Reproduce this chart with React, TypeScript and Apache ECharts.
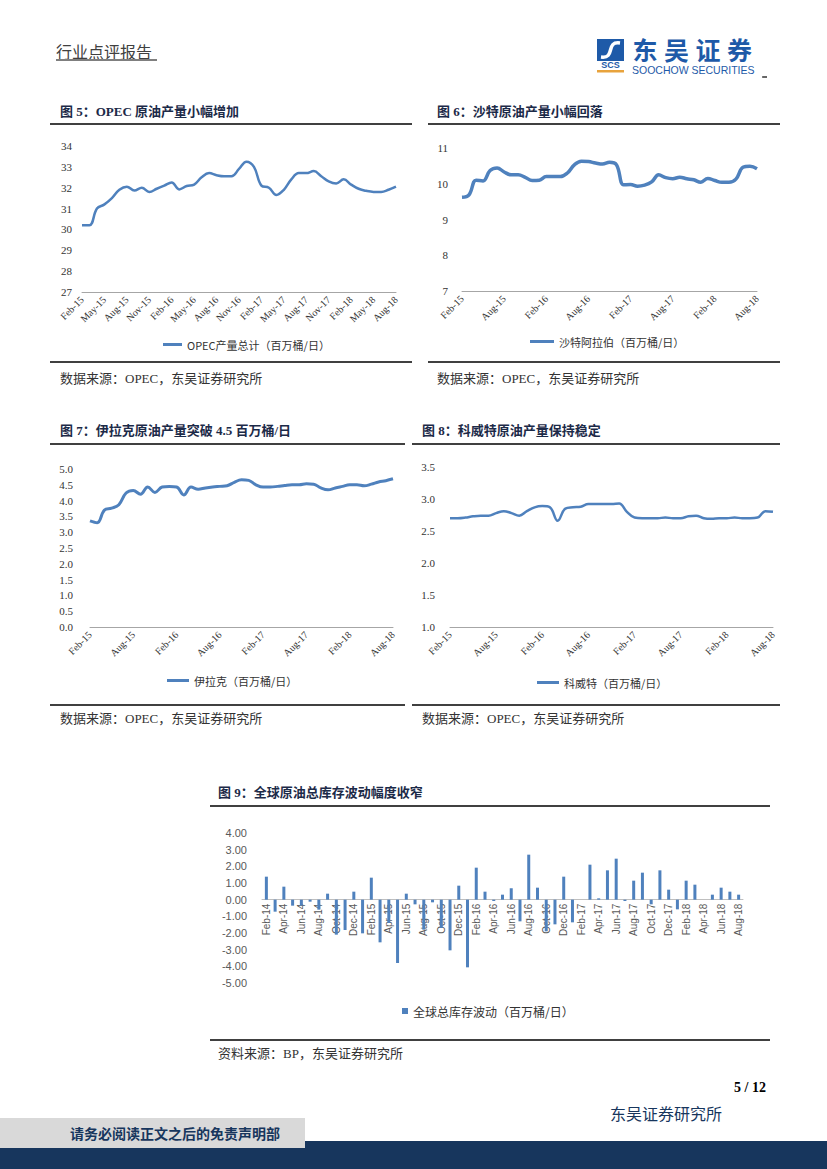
import React, { useEffect, useRef } from 'react';
import * as echarts from 'echarts';

const MONTHS_A = ['Feb-15','Mar-15','Apr-15','May-15','Jun-15','Jul-15','Aug-15','Sep-15','Oct-15','Nov-15','Dec-15',
  'Jan-16','Feb-16','Mar-16','Apr-16','May-16','Jun-16','Jul-16','Aug-16','Sep-16','Oct-16','Nov-16','Dec-16',
  'Jan-17','Feb-17','Mar-17','Apr-17','May-17','Jun-17','Jul-17','Aug-17','Sep-17','Oct-17','Nov-17','Dec-17',
  'Jan-18','Feb-18','Mar-18','Apr-18','May-18','Jun-18','Jul-18','Aug-18'];

const MONTHS_B = ['Feb-14','Mar-14','Apr-14','May-14','Jun-14','Jul-14','Aug-14','Sep-14','Oct-14','Nov-14','Dec-14',
  'Jan-15','Feb-15','Mar-15','Apr-15','May-15','Jun-15','Jul-15','Aug-15','Sep-15','Oct-15','Nov-15','Dec-15',
  'Jan-16','Feb-16','Mar-16','Apr-16','May-16','Jun-16','Jul-16','Aug-16','Sep-16','Oct-16','Nov-16','Dec-16',
  'Jan-17','Feb-17','Mar-17','Apr-17','May-17','Jun-17','Jul-17','Aug-17','Sep-17','Oct-17','Nov-17','Dec-17',
  'Jan-18','Feb-18','Mar-18','Apr-18','May-18','Jun-18','Jul-18','Aug-18'];

const OPEC = [30.2,30.2,31.0,31.2,31.5,31.9,32.05,31.87,32.0,31.8,31.95,32.1,32.25,31.92,32.08,32.15,32.5,32.7,32.6,32.55,
  32.55,32.9,33.25,33.0,32.1,32.0,31.65,31.9,32.4,32.7,32.7,32.8,32.55,32.3,32.2,32.4,32.15,31.95,31.85,31.8,
  31.8,31.9,32.05];

const SAUDI = [9.62,9.69,10.1,10.08,10.37,10.44,10.33,10.25,10.25,10.18,10.09,10.1,10.2,10.2,10.2,10.3,10.53,10.63,10.62,10.58,
  10.55,10.6,10.53,9.97,9.98,9.93,9.96,10.05,10.25,10.17,10.14,10.18,10.14,10.11,10.04,10.15,10.09,10.04,10.04,10.13,
  10.46,10.49,10.42];

const IRAQ = [3.36,3.3,3.7,3.76,3.87,4.24,4.32,4.2,4.43,4.26,4.43,4.45,4.43,4.18,4.43,4.36,4.4,4.43,4.45,4.47,
  4.58,4.66,4.64,4.5,4.43,4.43,4.45,4.48,4.5,4.5,4.53,4.52,4.4,4.34,4.4,4.45,4.5,4.5,4.47,4.52,
  4.59,4.63,4.69];

const KUWAIT = [2.70,2.70,2.71,2.73,2.74,2.74,2.78,2.81,2.78,2.74,2.81,2.87,2.89,2.87,2.66,2.85,2.87,2.88,2.92,2.92,
  2.92,2.92,2.93,2.80,2.71,2.70,2.70,2.70,2.71,2.70,2.70,2.73,2.74,2.70,2.69,2.70,2.70,2.71,2.70,2.70,
  2.71,2.81,2.80];

const STOCK = [1.38,-0.72,0.78,-0.36,-0.36,-0.12,-0.6,0.36,-2.1,-1.82,
  0.48,-2.02,1.32,-2.56,-1.4,-3.8,0.36,-0.28,-1.8,-0.16,
  -1.7,-3.04,0.84,-4.06,1.92,0.48,-0.08,0.3,0.68,-1.3,
  2.7,0.72,-1.9,-1.48,1.38,-1.36,0,2.1,0.08,1.76,
  2.46,-0.08,1.14,1.62,-0.28,1.76,0.6,-0.58,1.14,0.9,
  0,0.3,0.72,0.48,0.3];

const NAMES = ['OPEC产量总计（百万桶/日）','沙特阿拉伯（百万桶/日）','伊拉克（百万桶/日）','科威特（百万桶/日）','全球总库存波动（百万桶/日）'];

const LOGO_CHARS = ['东', '吴', '证', '券'];

const SERIF = '"Liberation Serif", "Times New Roman", serif';
const CJK = '"Noto Sans CJK SC", sans-serif';
const MIX = '"Liberation Serif", "Noto Sans CJK SC", serif';
const BLUE = '#4F81BD';
const NAVY = '#17365D';

// bar chart grid geometry
const G9_TOP = 833;
const G9_H = 150;
const G9_MIN = -5;
const G9_MAX = 4;
const G9_ZERO_OFFSET = -(G9_H * (0 - G9_MIN)) / (G9_MAX - G9_MIN);

const lineX = (gridIndex: number, interval: number) => ({
  type: 'category', gridIndex, data: MONTHS_A, boundaryGap: false,
  axisLine: { lineStyle: { color: '#a6a6a6', width: 1 } },
  axisTick: { show: false },
  axisLabel: { rotate: 45, interval, fontSize: 10, fontFamily: SERIF, color: '#333', margin: 6 },
});

const valY = (gridIndex: number, min: number, max: number, interval: number, margin: number, dec: number) => ({
  type: 'value', gridIndex, min, max, interval,
  splitLine: { show: false }, axisLine: { show: false }, axisTick: { show: false },
  axisLabel: { fontSize: 11, fontFamily: SERIF, color: '#333', margin, formatter: (v: number) => v.toFixed(dec) },
});

const lineSeries = (i: number, data: number[], width: number) => ({
  type: 'line', name: NAMES[i], xAxisIndex: i, yAxisIndex: i, data, smooth: 0.4,
  showSymbol: false, symbol: 'none',
  lineStyle: { color: BLUE, width }, itemStyle: { color: BLUE },
});

const lineLegend = (i: number, left: number, cy: number, w: number) => ({
  data: [NAMES[i]], left, top: cy - 8, icon: 'rect', itemWidth: w, itemHeight: 3,
  textStyle: { fontSize: 11, color: '#333', fontFamily: CJK },
});

const txt = (text: string, x: number, y: number, font: string, fill: string, align = 'left') => ({
  type: 'text', x, y,
  style: { text, font, fill, textAlign: align, textVerticalAlign: 'middle', align, verticalAlign: 'middle' },
});

const ln = (x1: number, y1: number, x2: number, y2: number, stroke: string, lineWidth: number) => ({
  type: 'line', shape: { x1, y1, x2, y2 }, style: { stroke, lineWidth },
});

const rc = (x: number, y: number, width: number, height: number, fill: string) => ({
  type: 'rect', shape: { x, y, width, height }, style: { fill },
});

const TITLE_FONT = `bold 13px ${MIX}`;
const SRC_FONT = `13px ${MIX}`;

const option: any = {
  animation: false,
  backgroundColor: '#ffffff',
  grid: [
    { left: 82, top: 146, width: 314, height: 146 },
    { left: 462, top: 148, width: 295, height: 143 },
    { left: 90, top: 469, width: 303, height: 158 },
    { left: 450, top: 467, width: 323, height: 160 },
    { left: 262, top: G9_TOP, width: 481, height: G9_H },
  ],
  xAxis: [
    lineX(0, 2),
    lineX(1, 5),
    lineX(2, 5),
    lineX(3, 5),
    {
      type: 'category', gridIndex: 4, data: MONTHS_B, boundaryGap: true,
      position: 'bottom', offset: G9_ZERO_OFFSET,
      axisLine: { onZero: false, lineStyle: { color: '#bfbfbf', width: 1 } },
      axisTick: { show: false },
      axisLabel: { rotate: 90, interval: 1, fontSize: 10, fontFamily: '"Liberation Sans", Arial, sans-serif', color: '#595959', margin: 4 },
    },
  ],
  yAxis: [
    valY(0, 27, 34, 1, 10, 0),
    valY(1, 7, 11, 1, 14, 0),
    valY(2, 0, 5, 0.5, 17, 1),
    valY(3, 1, 3.5, 0.5, 15, 1),
    {
      type: 'value', gridIndex: 4, min: G9_MIN, max: G9_MAX, interval: 1,
      splitLine: { show: false }, axisLine: { show: false }, axisTick: { show: false },
      axisLabel: { fontSize: 11, fontFamily: '"Liberation Sans", Arial, sans-serif', color: '#595959', margin: 15, formatter: (v: number) => v.toFixed(2) },
    },
  ],
  legend: [
    lineLegend(0, 158, 342, 19),
    lineLegend(1, 525, 339, 24),
    lineLegend(2, 162, 678, 22),
    lineLegend(3, 532, 680, 22),
    {
      data: [NAMES[4]], left: 397, top: 1000, icon: 'rect', itemWidth: 6, itemHeight: 6,
      textStyle: { fontSize: 12, color: '#333', fontFamily: CJK },
    },
  ],
  series: [
    lineSeries(0, OPEC, 2.5),
    lineSeries(1, SAUDI, 3.5),
    lineSeries(2, IRAQ, 3),
    lineSeries(3, KUWAIT, 2.5),
    {
      type: 'bar', name: NAMES[4], xAxisIndex: 4, yAxisIndex: 4, data: STOCK, barWidth: 3,
      itemStyle: { color: BLUE },
    },
  ],
  graphic: [
    // header
    txt('行业点评报告', 56, 51, `16px ${CJK}`, '#404040'),
    ln(56, 60, 157, 60, '#7f7f7f', 2),
    rc(597, 39, 27, 22, '#1E5AA8'),
    {
      type: 'bezierCurve',
      shape: { x1: 601, y1: 57, x2: 620, y2: 43, cpx1: 616, cpy1: 59, cpx2: 605, cpy2: 41 },
      style: { stroke: '#ffffff', lineWidth: 3.5, fill: 'none' },
    },
    txt('SCS', 610.5, 65, `bold 9px "Liberation Sans", Arial, sans-serif`, '#1E5AA8', 'center'),
    rc(597, 70, 27, 2.5, '#E8A33C'),
    ...LOGO_CHARS.map((c, i) => txt(c, 645 + i * 31.5, 49, `bold 25px ${CJK}`, '#1E5AA8', 'center')),
    txt('SOOCHOW SECURITIES', 632, 69.5, `10.5px "Liberation Sans", Arial, sans-serif`, '#1E5AA8'),
    ln(762, 77, 767, 77, '#000', 1.2),

    // titles
    txt('图 5：OPEC 原油产量小幅增加', 60, 111, TITLE_FONT, '#1c2a48'),
    txt('图 6：沙特原油产量小幅回落', 437, 111, TITLE_FONT, '#1c2a48'),
    txt('图 7：伊拉克原油产量突破 4.5 百万桶/日', 60, 430, TITLE_FONT, '#1c2a48'),
    txt('图 8：科威特原油产量保持稳定', 422, 430, TITLE_FONT, '#1c2a48'),
    txt('图 9：全球原油总库存波动幅度收窄', 218, 792, TITLE_FONT, '#1c2a48'),

    ln(50, 124, 412, 124, '#000', 1.5),
    ln(428, 124, 780, 124, '#000', 1.5),
    ln(50, 444, 405, 444, '#000', 1.5),
    ln(412, 444, 780, 444, '#000', 1.5),
    ln(210, 806, 770, 806, '#000', 1.5),

    ln(50, 362, 412, 362, '#000', 1.5),
    ln(428, 362, 780, 362, '#000', 1.5),
    ln(50, 705, 405, 705, '#000', 1.5),
    ln(412, 705, 780, 705, '#000', 1.5),
    ln(210, 1040, 770, 1040, '#000', 1.5),

    txt('数据来源：OPEC，东吴证券研究所', 60, 378, SRC_FONT, '#333'),
    txt('数据来源：OPEC，东吴证券研究所', 437, 378, SRC_FONT, '#333'),
    txt('数据来源：OPEC，东吴证券研究所', 60, 718, SRC_FONT, '#333'),
    txt('数据来源：OPEC，东吴证券研究所', 422, 718, SRC_FONT, '#333'),
    txt('资料来源：BP，东吴证券研究所', 218, 1053, SRC_FONT, '#333'),

    // footer
    txt('5 / 12', 766, 1087, `bold 14px ${SERIF}`, '#000', 'right'),
    txt('东吴证券研究所', 610, 1113, `16px ${CJK}`, NAVY),
    rc(0, 1141, 827, 28, NAVY),
    rc(0, 1118, 305, 30, '#D9D9D9'),
    txt('请务必阅读正文之后的免责声明部', 70, 1133, `bold 14px ${CJK}`, NAVY),
  ],
};

export default function App() {
  const ref = useRef<HTMLDivElement>(null);
  useEffect(() => {
    document.body.style.margin = '0';
    const chart = echarts.init(ref.current as HTMLDivElement, null, { renderer: 'svg', width: 827, height: 1169 });
    chart.setOption(option);
    return () => chart.dispose();
  }, []);
  return (
    <div
      ref={ref}
      style={{ position: 'absolute', left: 0, top: 0, width: 827, height: 1169, background: '#fff' }}
    />
  );
}
